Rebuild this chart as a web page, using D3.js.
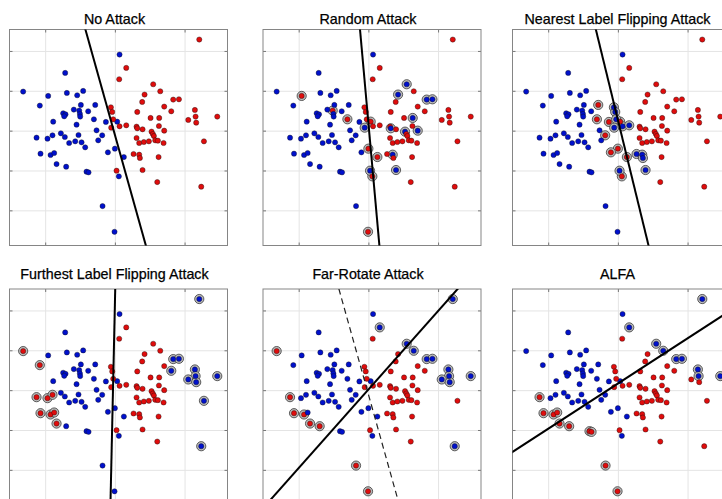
<!DOCTYPE html>
<html>
<head>
<meta charset="utf-8">
<script src="https://cdn.jsdelivr.net/npm/d3@7"></script>
<style>
  body { margin: 0; background: #fff; }
  svg { display: block; }
  .title { font-family: "Liberation Sans", Arial, sans-serif; font-size: 14.3px; fill: #000; stroke: #000; stroke-width: 0.25px; }
  .grid line { stroke: #e4e4e4; stroke-width: 1; }
  .ticks line { stroke: #777; stroke-width: 1; }
  .grid path, .ticks path { display: none; }
</style>
</head>
<body>
<svg width="722" height="499"></svg>
<script>
let titles = ['No Attack', 'Random Attack', 'Nearest Label Flipping Attack',
  'Furthest Label Flipping Attack', 'Far-Rotate Attack', 'ALFA'];

let xTicks = [-1, 0, 1];
let yTicks = [-2, -1, 0, 1, 2];

// training points: first 49 are class "blue", the other 49 class "red"
let pointX = [
  0.067, -0.713, -1.316, -0.957, -0.689, -0.541, -0.455, -1.077, -0.488, -0.282,
  -0.589, -0.512, -0.383, -0.742, -0.708, -0.727, -0.502, -0.498, -0.885, -0.55,
  -0.301, -0.129, 0.033, -0.263, -0.182, -0.775, -1.124, -0.967, -0.895, -0.718,
  -0.522, -0.656, -0.569, -0.478, -0.239, -0.426, 0.0, -0.1, -1.067, -0.923,
  -0.871, 0.129, -0.837, -0.699, -0.407, -0.378, -0.177, -0.005, 0.057,
  1.211, 0.163, 0.062, 0.55, 0.651, 0.426, 0.392, 0.837, 0.919, 0.708,
  0.809, 1.148, -0.057, -0.038, 0.321, 1.158, 1.469, 1.053, 1.167, -0.024,
  0.512, 0.636, -0.053, 0.067, 0.163, 0.311, 0.321, 0.397, 0.526, 0.545,
  0.632, 0.708, 0.56, 0.311, 0.349, 0.416, 0.488, 0.579, 0.617, 0.699,
  1.278, 0.268, 0.349, 0.359, 0.627, 0.397, 0.024, 0.608, 1.239
];
let pointY = [
  1.91, 1.449, 0.98, 0.871, 0.946, 0.888, 0.997, 0.628, 0.645, 0.645,
  0.528, 0.503, 0.486, 0.436, 0.41, 0.36, 0.419, 0.352, 0.226, 0.151,
  0.285, 0.218, 0.226, 0.008, -0.117, -0.067, -0.176, -0.201, -0.117, -0.159,
  -0.109, -0.31, -0.268, -0.293, -0.243, -0.419, -0.452, -0.544, -0.578, -0.611,
  -0.561, -0.662, -0.838, -0.905, -1.03, -1.047, -1.893, -2.538, -1.147,
  2.286, 1.575, 1.29, 1.164, 0.988, 0.905, 0.72, 0.779, 0.787, 0.603,
  0.486, 0.519, 0.586, 0.469, 0.469, 0.352, 0.352, 0.268, 0.201, 0.285,
  0.318, 0.318, 0.075, 0.109, 0.134, 0.1, 0.059, 0.034, -0.025, -0.084,
  0.117, 0.0, -0.134, -0.184, -0.31, -0.285, -0.268, -0.243, -0.251, -0.31,
  -0.268, -0.586, -0.603, -0.687, -0.662, -0.988, -1.005, -1.29, -1.407
];
let pointLabel = pointX.map((d, i) => i < 49 ? 0 : 1); // 0 blue, 1 red

// indices of points whose label was flipped by each attack
let flipNone = [];
let flipRandom = [3, 11, 20, 22, 36, 41, 47, 48, 52, 54, 56, 57, 70, 80, 75, 77, 71, 91, 94, 95];
let flipNearest = [9, 20, 21, 22, 24, 36, 37, 41, 48, 61, 62, 68, 71, 72, 73, 90, 91, 92, 94, 95];
let flipFurthest = [2, 7, 26, 27, 28, 38, 39, 40, 42, 49, 56, 57, 59, 60, 64, 65, 66, 67, 89, 97];
let flipFarRotate = [2, 26, 38, 39, 42, 43, 46, 47, 49, 50, 52, 53, 56, 57, 60, 64, 65, 66, 67, 97];
let flipAlfa = [26, 38, 39, 40, 42, 43, 44, 45, 46, 47, 49, 50, 52, 53, 56, 57, 60, 64, 65];
let flips = [flipNone, flipRandom, flipNearest, flipFurthest, flipFarRotate, flipAlfa];

// decision boundaries  w1*x + w2*y + b = 0
let boundaryW1 = [1, 1, 1, 1, 1, 1];
let boundaryW2 = [0.16, 0.0513, 0.1395, -0.0127, -0.5076, -0.881];
let boundaryB = [0.0166, -0.0102, -0.038, 0.0272, 0.0076, 0.145];
let dashedPanel = 4; // original boundary shown dashed in Far-Rotate panel

let colors = ['#0010cc', '#e00c0c'];
let W = 218, H = 216;
let cols = [9.5, 263, 512.5];
let rows = [29.5, 289];
let titleGap = [6, 10];

let svg = d3.select('svg');
let x = d3.scaleLinear().domain([-1.512, 1.616]).range([0, W]);
let y = d3.scaleLinear().domain([-2.882, 2.538]).range([H, 0]);

function translate(a, b) {
  return `translate(${a},${b})`;
}

function boundaryPoints(w1, w2, b) {
  let ys = [y.domain()[0] - 1, y.domain()[1] + 1];
  return ys.map(v => [-(w2 * v + b) / w1, v]);
}

let line = d3.line().x(d => x(d[0])).y(d => y(d[1]));

titles.forEach((title, i) => {
  let col = i % 3, row = Math.floor(i / 3);
  let g = svg.append('g').attr('transform', translate(cols[col], rows[row]));

  g.append('clipPath').attr('id', 'clip' + i)
    .append('rect').attr('width', W).attr('height', H);

  // grid
  g.append('g').attr('class', 'grid')
    .call(d3.axisBottom(x).tickValues(xTicks).tickSize(H).tickFormat(''));
  g.append('g').attr('class', 'grid')
    .call(d3.axisLeft(y).tickValues(yTicks).tickSize(-W).tickFormat(''));

  // inward ticks on all four sides
  g.append('g').attr('class', 'ticks')
    .call(d3.axisTop(x).tickValues(xTicks).tickSize(-3).tickFormat(''));
  g.append('g').attr('class', 'ticks').attr('transform', translate(0, H))
    .call(d3.axisBottom(x).tickValues(xTicks).tickSize(-3).tickFormat(''));
  g.append('g').attr('class', 'ticks')
    .call(d3.axisLeft(y).tickValues(yTicks).tickSize(-3).tickFormat(''));
  g.append('g').attr('class', 'ticks').attr('transform', translate(W, 0))
    .call(d3.axisRight(y).tickValues(yTicks).tickSize(-3).tickFormat(''));

  g.append('rect').attr('width', W).attr('height', H)
    .attr('fill', 'none').attr('stroke', '#858585').attr('stroke-width', 1);

  let plot = g.append('g').attr('clip-path', `url(#clip${i})`);
  let flipped = flips[i];
  let pts = pointX.map((px, k) => ({
    x: px, y: pointY[k],
    flip: flipped.includes(k),
    label: flipped.includes(k) ? 1 - pointLabel[k] : pointLabel[k]
  }));

  plot.selectAll('circle.ring')
    .data(pts.filter(d => d.flip))
    .enter().append('circle')
    .attr('class', 'ring')
    .attr('cx', d => x(d.x)).attr('cy', d => y(d.y))
    .attr('r', 4.6)
    .attr('fill', '#bcbcbc').attr('stroke', '#3a3a3a').attr('stroke-width', 0.8);

  plot.selectAll('circle.pt')
    .data(pts)
    .enter().append('circle')
    .attr('class', 'pt')
    .attr('cx', d => x(d.x)).attr('cy', d => y(d.y))
    .attr('r', 2.6)
    .attr('fill', d => colors[d.label])
    .attr('stroke', '#111').attr('stroke-width', 0.4);

  if (i === dashedPanel) {
    plot.append('path')
      .attr('d', line(boundaryPoints(boundaryW1[0], boundaryW2[0], boundaryB[0])))
      .attr('fill', 'none').attr('stroke', '#222').attr('stroke-width', 1.2)
      .attr('stroke-dasharray', '6,4');
  }
  plot.append('path')
    .attr('d', line(boundaryPoints(boundaryW1[i], boundaryW2[i], boundaryB[i])))
    .attr('fill', 'none').attr('stroke', '#000').attr('stroke-width', 2);

  svg.append('text').attr('class', 'title')
    .attr('x', cols[col] + W / 2 - 4)
    .attr('y', rows[row] - titleGap[row])
    .attr('text-anchor', 'middle')
    .text(title);
});
</script>
</body>
</html>
